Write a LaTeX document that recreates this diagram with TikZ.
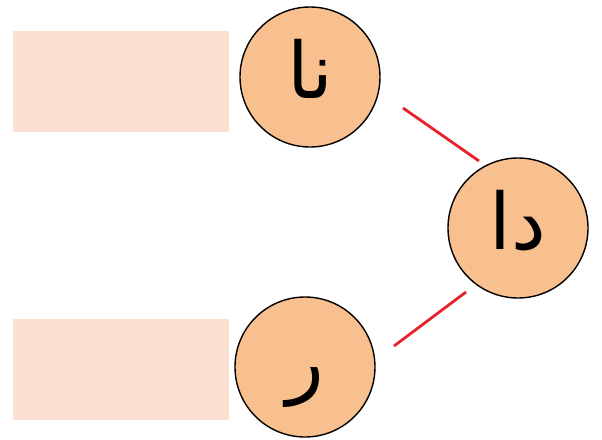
\documentclass[tikz,border=0pt]{standalone}
\usepackage{fontspec}
\TeXXeTstate=1
\newfontfamily\arabicfont[Script=Arabic]{DejaVu Sans}
\definecolor{circfill}{HTML}{F8BF8F}
\definecolor{boxfill}{HTML}{FBE0D2}
\definecolor{linered}{HTML}{E8212B}
\begin{document}
\begin{tikzpicture}[x=1pt,y=-1pt,
  box/.style={fill=boxfill,draw=none,minimum width=216pt,minimum height=101pt,inner sep=0pt},
  letter/.style={circle,fill=circfill,draw=black,line width=1.4pt,minimum size=140pt,inner sep=0pt,
    text height=50pt,text depth=8pt,
    font=\arabicfont\fontsize{78}{84}\selectfont},
  link/.style={draw=linered,line width=2.8pt}]
\useasboundingbox (0,0) rectangle (602,439);
\node[box] (b1) at (120.5,81) {};
\node[box] (b2) at (120.5,369) {};
\node[letter] (n) at (310,77) {\beginR نا\endR};
\node[letter] (d) at (518,228) {\beginR دا\endR};
\node[letter] (r) at (305,367) {\beginR ر\endR};
\coordinate (l1a) at (403,108);
\coordinate (l1b) at (479,161);
\coordinate (l2a) at (394,346);
\coordinate (l2b) at (466,292);
\draw[link] (l1a) -- (l1b);
\draw[link] (l2a) -- (l2b);
\end{tikzpicture}
\end{document}
